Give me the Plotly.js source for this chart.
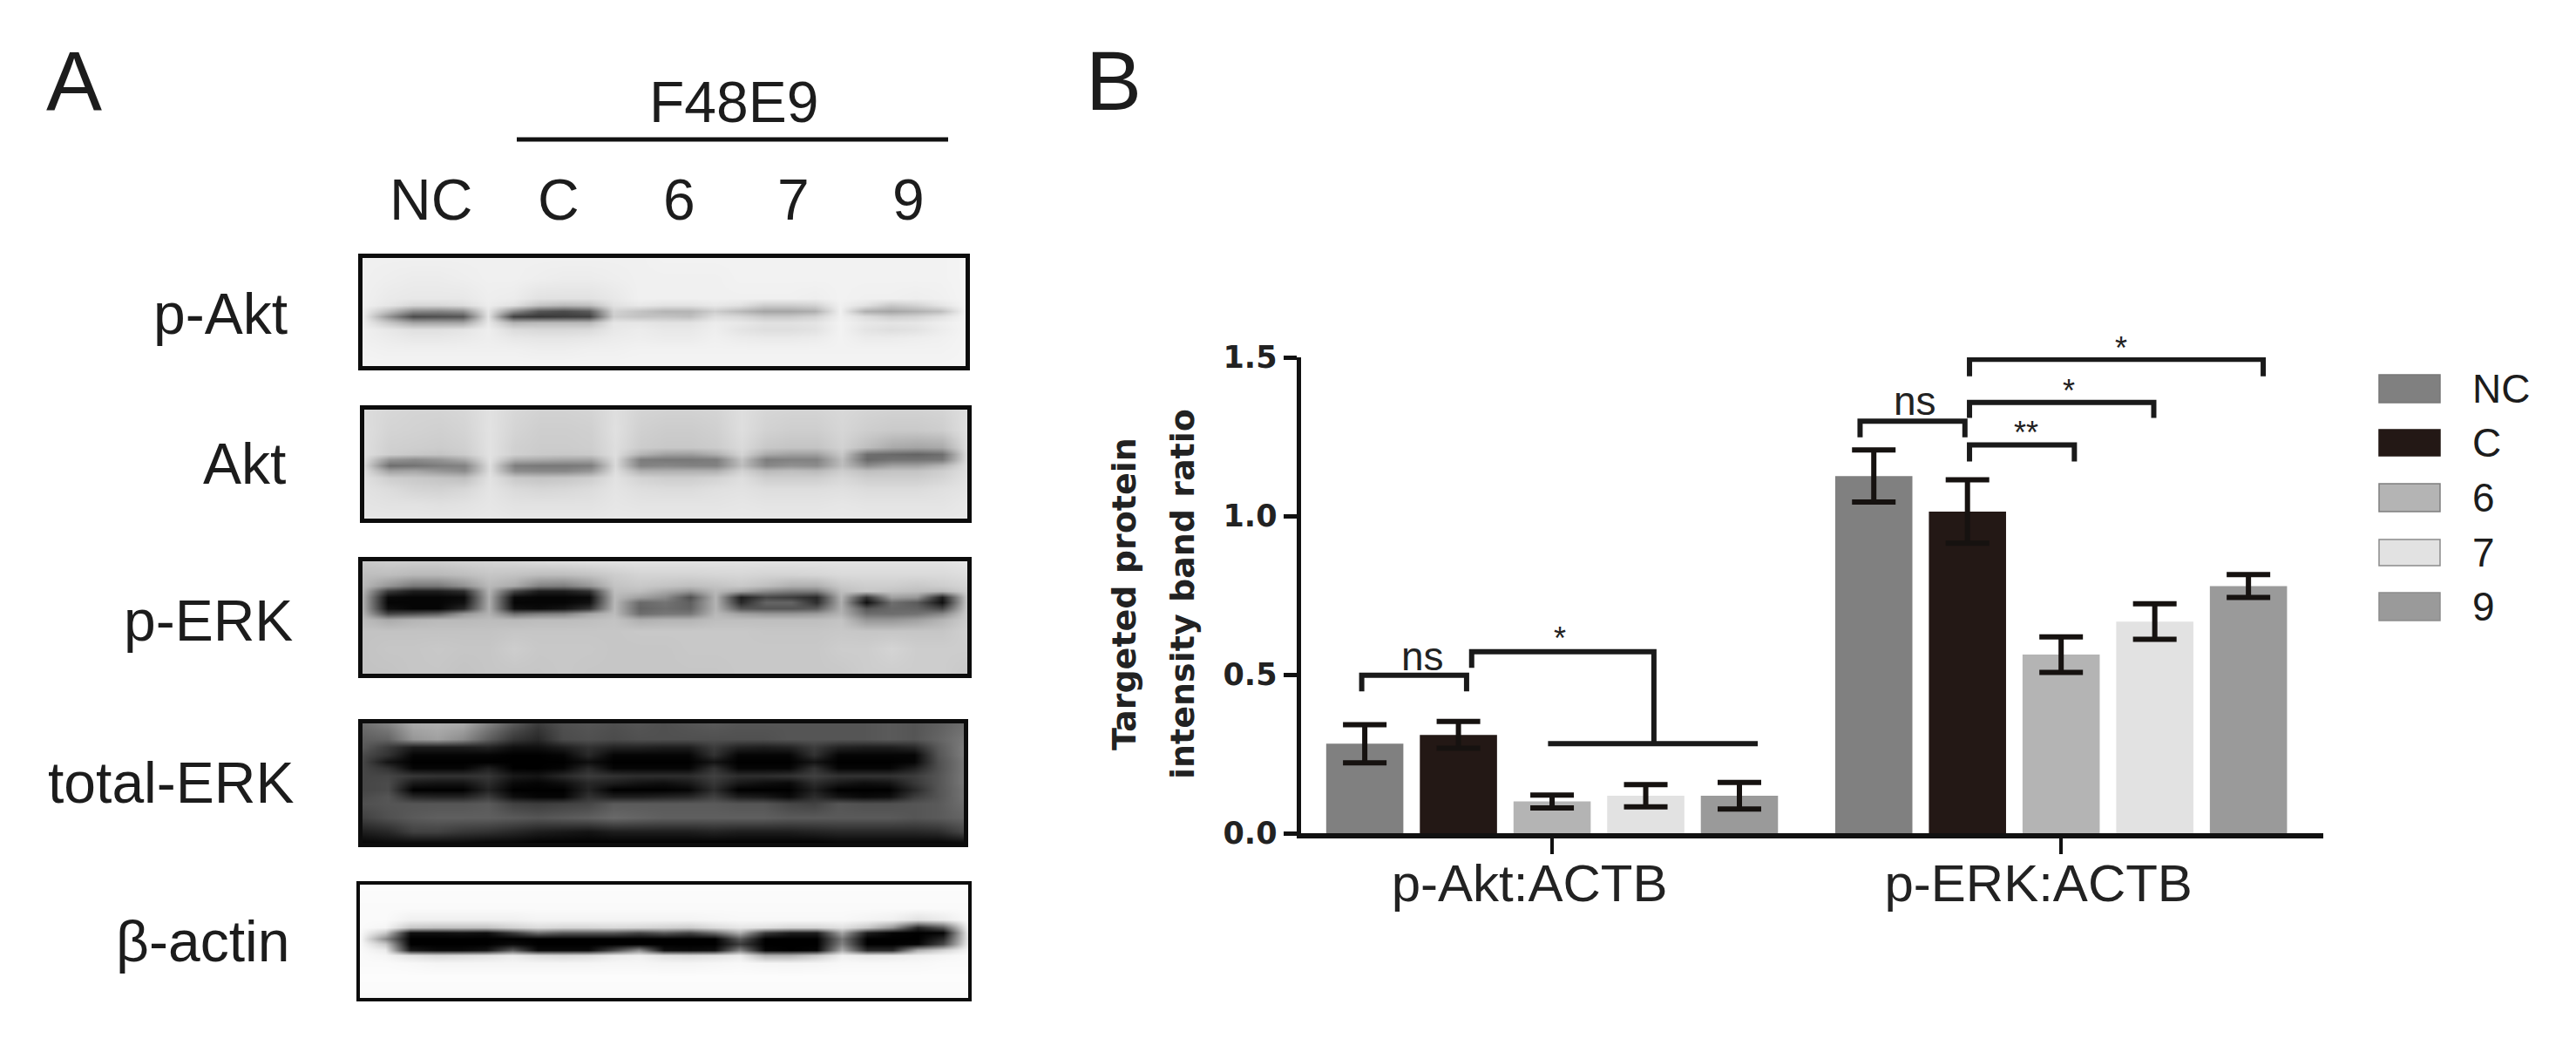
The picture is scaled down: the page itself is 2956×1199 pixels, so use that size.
<!DOCTYPE html>
<html>
<head>
<meta charset="utf-8">
<script src="https://cdn.plot.ly/plotly-3.0.1.min.js"></script>
<style>html,body{margin:0;padding:0;background:#fff;overflow:hidden}#chart{width:2956px;height:1199px}</style>
</head>
<body>
<div id="chart"></div>
<script>
// ---------- Panel B data ----------
var groupTicks = ['p-Akt:ACTB', 'p-ERK:ACTB'];
var seriesNames = ['NC', 'C', '6', '7', '9'];
var seriesColors = ['#808080', '#231815', '#b4b4b4', '#e2e2e2', '#9a9a9a'];
var valuesNC = [0.282, 1.126];
var valuesC = [0.310, 1.014];
var values6 = [0.100, 0.563];
var values7 = [0.118, 0.667];
var values9 = [0.118, 0.779];
var errNC = [0.060, 0.082];
var errC = [0.042, 0.100];
var err6 = [0.020, 0.056];
var err7 = [0.035, 0.056];
var err9 = [0.042, 0.036];
var yTicks = [0, 0.5, 1.0, 1.5];
var yTickText = ['0.0', '0.5', '1.0', '1.5'];

// significance brackets, [x...], [y...] in axis units
var bracketX = [
  [-0.374, -0.374, -0.168, -0.168],
  [-0.158, -0.158, 0.200, 0.200],
  [-0.008, 0.404],
  [0.605, 0.605, 0.811, 0.811],
  [0.820, 0.820, 1.026, 1.026],
  [0.820, 0.820, 1.182, 1.182],
  [0.820, 0.820, 1.397, 1.397]
];
var bracketY = [
  [0.447, 0.498, 0.498, 0.447],
  [0.521, 0.572, 0.572, 0.282],
  [0.282, 0.282],
  [1.248, 1.299, 1.299, 1.248],
  [1.172, 1.224, 1.224, 1.172],
  [1.309, 1.358, 1.358, 1.309],
  [1.440, 1.494, 1.494, 1.440]
];
var sigText = ['ns', '*', 'ns', '**', '*', '*'];
var sigX = [-0.255, 0.016, 0.713, 0.932, 1.015, 1.118];
var sigY = [0.558, 0.614, 1.363, 1.261, 1.394, 1.530];

// ---------- Panel A data: blot grey levels (rows top to bottom, 25 columns) ----------
var blotNames = ['p-Akt', 'Akt', 'p-ERK', 'total-ERK', 'β-actin'];
var laneLabels = ['NC', 'C', '6', '7', '9'];
var rowsPAkt = [0, 18.5, 37, 43.6, 48.9, 54, 59.5, 66, 74, 84.7, 100];
var blotPAkt = [
 [240,240,240,240,240,240,240,240,240,240,240,240,242,242,242,242,242,242,242,242,242,242,242,242,244],
 [240,238,236,236,238,240,240,238,236,236,238,240,240,240,240,242,242,242,242,242,242,242,242,242,244],
 [240,234,232,232,232,238,236,226,226,226,232,240,240,240,240,240,240,240,238,242,240,240,238,240,244],
 [240,230,215,215,220,236,225,195,185,190,225,232,226,226,232,225,205,205,210,240,225,200,210,228,244],
 [238,190,135,130,140,230,140,85,75,90,210,195,180,180,205,185,165,165,175,240,175,165,175,190,244],
 [238,150,75,80,85,228,65,55,60,65,205,195,195,190,222,215,200,200,210,240,220,205,210,225,244],
 [238,200,165,165,165,232,180,185,185,185,230,230,226,226,236,232,225,225,228,242,232,228,230,238,244],
 [240,232,224,224,228,238,220,216,216,218,232,236,232,232,238,228,222,222,226,242,228,222,226,236,244],
 [240,236,232,232,234,238,232,230,230,232,236,238,236,236,240,236,234,234,236,242,236,236,238,240,244],
 [242,240,240,240,240,240,240,238,238,240,240,242,242,242,242,242,242,242,242,242,242,242,242,242,244],
 [244,244,244,244,244,244,244,244,244,244,244,244,244,244,244,244,244,244,244,244,244,244,244,244,244]
];
var rowsAkt = [0, 18.5, 34, 40.5, 45.6, 50.9, 56, 62.6, 73, 86, 100];
var blotAkt = [
 [220,215,212,212,215,225,215,210,210,212,222,212,210,210,212,222,214,212,212,216,212,210,210,212,222],
 [222,212,210,208,212,226,212,206,206,208,224,208,204,204,208,222,210,206,206,214,206,202,202,206,224],
 [222,208,206,204,208,226,208,204,204,206,222,204,200,200,204,218,200,196,196,210,190,170,165,170,222],
 [222,206,200,196,204,226,208,202,200,202,222,180,160,158,175,212,170,160,160,200,110,105,100,110,222],
 [220,150,140,150,170,226,175,170,165,165,220,125,120,120,125,195,125,130,130,190,105,115,115,120,222],
 [215,110,115,125,130,222,125,120,120,125,218,130,135,130,130,190,135,145,140,190,140,160,160,180,224],
 [220,160,165,150,140,222,140,135,135,150,222,175,175,175,175,210,185,190,185,205,190,195,195,205,224],
 [224,205,200,195,190,226,200,195,198,205,226,210,205,205,210,222,205,205,205,215,205,205,205,212,226],
 [226,220,212,210,215,228,218,214,216,220,228,222,220,220,224,226,222,222,222,224,220,220,220,224,228],
 [228,226,226,224,226,230,226,226,226,226,230,228,228,228,228,230,228,228,228,230,228,228,228,228,232],
 [230,230,230,230,230,232,230,230,230,230,232,232,232,232,232,232,232,232,232,232,232,232,232,232,232]
];
var rowsPErk = [0, 11.4, 21.5, 26.6, 31.6, 36.7, 41.8, 46.8, 51.9, 62, 77.2, 100];
var blotPErk = [
 [200,205,205,205,210,212,215,220,222,225,225,226,226,226,226,226,226,226,226,226,226,226,226,226,230],
 [190,190,185,185,190,198,195,190,190,195,205,212,212,212,214,215,212,212,214,218,218,218,218,218,222],
 [185,150,120,120,145,185,170,130,125,150,195,200,195,190,195,200,190,175,175,200,205,205,200,205,212],
 [180,60,30,30,45,180,70,30,30,50,190,190,170,150,185,165,140,125,125,190,200,195,190,185,208],
 [175,10,5,5,10,175,10,5,5,10,185,160,140,80,180,30,70,60,40,180,50,160,150,30,205],
 [175,5,5,5,15,175,5,5,5,15,185,105,115,95,180,40,100,100,45,175,15,110,90,15,205],
 [175,15,5,5,40,175,15,10,20,50,185,100,110,100,180,85,85,85,90,175,85,105,100,70,205],
 [180,70,80,95,150,178,110,125,130,165,188,110,120,120,185,160,150,150,155,180,110,110,115,135,205],
 [188,170,180,185,185,188,185,188,188,190,195,175,180,180,190,190,190,190,190,195,150,150,160,180,205],
 [195,195,195,195,195,195,198,198,198,198,198,200,200,200,200,200,198,198,198,200,198,198,198,198,208],
 [195,198,198,200,198,198,205,200,200,200,198,198,198,200,200,200,200,200,200,205,205,212,205,205,205],
 [195,195,198,198,195,198,198,198,200,198,198,198,198,198,198,200,200,200,200,200,205,205,205,205,200]
];
var rowsTotalErk = [0, 13, 20, 26, 32, 37.5, 43.5, 49.5, 55.5, 61, 67, 79, 90.5, 100];
var blotTotalErk = [
 [110,130,170,175,170,130,90,60,80,85,80,85,80,85,90,85,85,85,85,85,85,90,85,95,110],
 [95,100,150,160,140,95,55,40,75,80,75,80,80,80,80,80,80,85,85,85,85,90,85,100,120],
 [90,60,30,30,30,35,15,15,30,50,35,35,30,30,60,35,30,35,60,35,30,30,40,90,125],
 [75,50,5,5,5,5,0,0,5,40,5,5,5,5,50,5,5,5,50,5,5,5,5,85,125],
 [70,20,0,0,0,0,0,0,0,15,0,0,0,0,20,0,0,0,20,0,0,0,5,80,120],
 [70,50,5,5,5,30,0,0,5,40,5,5,5,5,50,5,5,5,50,5,5,5,30,80,120],
 [70,70,55,50,50,55,25,20,40,60,50,45,45,45,65,45,45,50,65,50,50,50,60,85,120],
 [70,75,25,20,20,45,10,5,15,40,30,20,15,25,55,25,15,10,45,25,15,20,55,85,120],
 [70,75,0,0,0,35,0,0,0,35,0,0,0,5,45,0,0,0,30,0,0,0,40,85,115],
 [75,85,40,35,35,60,15,5,5,50,30,30,35,40,65,30,25,10,45,20,10,15,60,85,115],
 [80,85,85,85,85,90,65,60,65,70,90,90,90,90,90,85,85,70,65,85,80,80,85,90,110],
 [65,80,90,95,95,95,90,85,90,95,105,100,95,95,95,95,95,90,90,90,90,90,85,90,100],
 [30,40,65,65,55,50,40,30,25,20,30,30,30,30,35,30,30,30,35,40,40,40,40,45,70],
 [5,10,10,10,10,5,5,0,0,0,0,0,0,0,0,0,0,0,0,5,5,5,5,5,10]
];
var rowsActin = [0, 21, 31, 37.5, 42.5, 47.5, 52.5, 57.5, 62.5, 69, 81, 100];
var blotActin = [
 [252,252,252,252,252,252,252,252,252,252,252,252,252,252,252,252,252,252,252,252,252,252,252,252,252],
 [250,250,250,250,250,250,250,250,250,250,250,250,250,250,250,250,250,250,250,250,250,250,250,250,250],
 [250,250,240,240,240,240,240,244,244,244,244,244,244,244,246,248,248,248,248,248,244,240,225,235,250],
 [250,245,200,195,195,195,210,220,215,215,218,215,210,205,220,230,225,215,215,225,200,150,40,90,245],
 [250,200,15,15,20,15,60,110,90,90,90,70,90,70,110,175,60,30,30,165,30,5,0,5,240],
 [250,140,0,0,0,0,0,0,0,0,0,0,0,0,0,90,0,0,0,120,0,0,0,40,235],
 [250,200,0,0,0,0,10,0,0,0,0,0,0,0,0,60,0,0,0,130,0,0,5,70,240],
 [250,235,25,10,10,20,90,10,10,10,70,140,15,10,15,130,5,0,5,170,40,40,170,210,245],
 [250,245,225,215,220,225,235,220,215,220,235,240,225,220,225,235,175,175,200,240,232,235,240,245,250],
 [250,250,248,245,245,245,245,245,245,245,246,246,244,244,246,248,245,244,245,248,248,248,248,250,250],
 [252,252,252,252,252,252,252,252,252,252,252,252,252,252,252,252,252,252,252,252,252,252,252,252,252],
 [250,250,250,250,250,250,250,250,250,250,250,250,250,250,250,250,250,250,250,250,250,250,250,250,250]
];

// ---------- Layout helpers ----------
var W = 2956, H = 1199;
function px(x) { return x / W; }
function py(y) { return 1 - y / H; }
var FONT = '"Liberation Sans", Arial, sans-serif';
var BOLD = '"DejaVu Sans", sans-serif';

var blotZ = [blotPAkt, blotAkt, blotPErk, blotTotalErk, blotActin];
var blotRows = [rowsPAkt, rowsAkt, rowsPErk, rowsTotalErk, rowsActin];
var blotBoxes = [[416,1108,296,420],[418,1110,470,595],[416,1110,644,773],[416,1106,830,967],[413,1111,1015,1145]];
var blotLine = [5,5,5,5,4];
var colPos = blotPAkt[0].map(function (_, i) { return i * 100 / 24; });

var traces = [];
var layout = {
  width: W, height: H, margin: {l:0,r:0,t:0,b:0,pad:0},
  paper_bgcolor: '#fff', plot_bgcolor: 'rgba(0,0,0,0)',
  showlegend: false, bargap: 0.08, bargroupgap: 0.176, barmode: 'group',
  annotations: [], shapes: [],
  xaxis: {
    type: 'linear', domain: [px(1492.5), px(2666)], range: [-0.494, 1.515],
    tickmode: 'array', tickvals: [0, 1], ticktext: groupTicks,
    ticks: 'outside', ticklen: 18, tickwidth: 4, tickcolor: '#111',
    showline: true, linecolor: '#111', linewidth: 6, showgrid: false, zeroline: false,
    ticklabelshift: -26, ticklabelstandoff: -18,
    tickfont: {family: FONT, size: 60, color: '#222'}
  },
  yaxis: {
    domain: [py(956), py(410)], range: [0, 1.5],
    tickmode: 'array', tickvals: yTicks, ticktext: yTickText,
    ticks: 'outside', ticklen: 15, tickwidth: 5, tickcolor: '#111',
    showline: true, linecolor: '#111', linewidth: 5, showgrid: false, zeroline: false,
    tickfont: {family: BOLD, size: 35, color: '#222', weight: 700}
  }
};

// Panel B bars
var seriesValues = [valuesNC, valuesC, values6, values7, values9];
var seriesErr = [errNC, errC, err6, err7, err9];
seriesNames.forEach(function (name, i) {
  traces.push({
    type: 'bar', name: name, x: [0, 1], y: seriesValues[i],
    marker: {color: seriesColors[i], line: {width: 0}},
    error_y: {type: 'data', array: seriesErr[i], visible: true, color: '#161210', thickness: 6, width: 25},
    hoverinfo: 'y', cliponaxis: false
  });
});

// Brackets
bracketX.forEach(function (xs, i) {
  traces.push({
    type: 'scatter', mode: 'lines', x: xs, y: bracketY[i], cliponaxis: false,
    line: {color: '#1a1a1a', width: 6, shape: 'linear'}, hoverinfo: 'skip', showlegend: false
  });
});
sigText.forEach(function (t, i) {
  layout.annotations.push({
    xref: 'paper', yref: 'paper', x: px(1781 + sigX[i] * 584), y: py(956 - sigY[i] * 364), text: t, showarrow: false,
    xanchor: 'center', yanchor: 'middle',
    font: {family: FONT, size: t === 'ns' ? 46 : 36, color: '#222'}
  });
});

// Blots as heatmaps
blotZ.forEach(function (z, i) {
  var n = i + 2, b = blotBoxes[i];
  traces.push({
    type: 'heatmap', z: z, x: colPos, y: blotRows[i], xaxis: 'x' + n, yaxis: 'y' + n,
    zmin: 0, zmax: 255, colorscale: [[0, '#000'], [1, '#fff']], showscale: false,
    zsmooth: 'best', hoverinfo: 'skip'
  });
  var common = {showgrid: false, zeroline: false, showticklabels: false, ticks: '', showline: true,
                mirror: true, linecolor: '#0c0c0c', linewidth: blotLine[i]};
  layout['xaxis' + n] = Object.assign({domain: [px(b[0]), px(b[1])], range: [0, 100], anchor: 'y' + n}, common);
  layout['yaxis' + n] = Object.assign({domain: [py(b[3]), py(b[2])], range: [100, 0], anchor: 'x' + n}, common);
});

// Text helper: x, centre in page pixels
function label(text, x, y, size, anchor, extra) {
  layout.annotations.push(Object.assign({
    xref: 'paper', yref: 'paper', x: px(x), y: py(y), text: text, showarrow: false,
    xanchor: anchor, yanchor: 'middle',
    font: {family: FONT, size: size, color: '#1c1c1c'}
  }, extra || {}));
}
label('A', 85, 92, 96, 'center');
label('B', 1278, 92, 96, 'center');
label('F48E9', 842, 117, 66, 'center');
layout.shapes.push({type: 'line', xref: 'paper', yref: 'paper', x0: px(593), x1: px(1088), y0: py(160), y1: py(160), line: {color: '#111', width: 5}});
var laneX = [494, 641, 779, 910, 1042];
laneLabels.forEach(function (t, i) { label(t, laneX[i], 229, 66, 'center'); });
var blotLabelX = [332, 330, 338, 339, 334];
var blotLabelY = [360, 532, 712, 898, 1080];
blotNames.forEach(function (t, i) { label(t, blotLabelX[i], blotLabelY[i], 66, 'right'); });

// Y title, one annotation per line
var yTitleLines = ['Targeted protein', 'intensity band ratio'];
var yTitleX = [1290, 1357];
yTitleLines.forEach(function (t, i) {
  layout.annotations.push({
    xref: 'paper', yref: 'paper', x: px(yTitleX[i]), y: py(682), text: t,
    showarrow: false, textangle: -90, xanchor: 'center', yanchor: 'middle',
    font: {family: BOLD, size: 38, color: '#222', weight: 700}
  });
});

// Key
var keyY = [[430,462],[493,523],[555,587],[619,649],[680,712]];
var keyEdge = ['#777', '#231815', '#7d7d7d', '#8a8a8a', '#8c8c8c'];
seriesNames.forEach(function (name, i) {
  layout.shapes.push({type: 'rect', xref: 'paper', yref: 'paper', x0: px(2730), x1: px(2800),
    y0: py(keyY[i][1]), y1: py(keyY[i][0]), fillcolor: seriesColors[i], line: {color: keyEdge[i], width: 1.5}});
  label(name, 2835, (keyY[i][0] + keyY[i][1]) / 2, 46, 'left');
});

Plotly.newPlot('chart', traces, layout, {displayModeBar: false, staticPlot: true});
</script>
</body>
</html>
